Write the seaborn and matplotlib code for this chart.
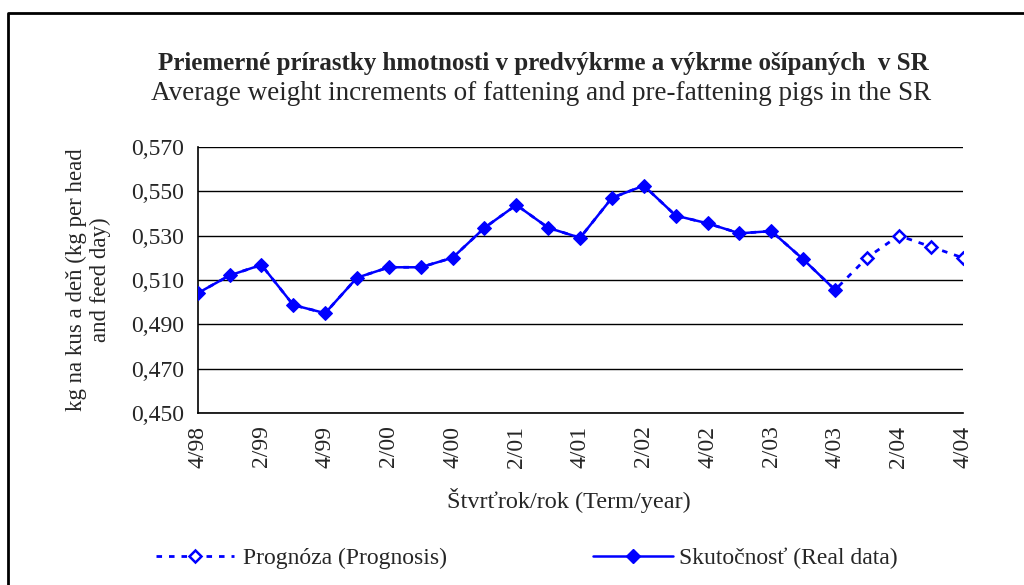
import matplotlib.pyplot as plt
import matplotlib.lines as mlines
import seaborn as sns
import numpy as np

# quarters 4/98 .. 4/04
quarters = ['4/98',
            '1/99', '2/99', '3/99', '4/99',
            '1/00', '2/00', '3/00', '4/00',
            '1/01', '2/01', '3/01', '4/01',
            '1/02', '2/02', '3/02', '4/02',
            '1/03', '2/03', '3/03', '4/03',
            '1/04', '2/04', '3/04', '4/04']

real_data = [0.504,
             0.512, 0.5168, 0.4987, 0.495,
             0.511, 0.5157, 0.5157, 0.520,
             0.5335, 0.5438, 0.5335, 0.529,
             0.547, 0.5525, 0.539, 0.5355,
             0.531, 0.532, 0.5193, 0.5055]

prognosis = [0.504,
             0.512, 0.5168, 0.4987, 0.495,
             0.511, 0.5157, 0.5157, 0.520,
             0.5335, 0.5438, 0.5335, 0.529,
             0.547, 0.5525, 0.539, 0.5355,
             0.531, 0.532, 0.5193, 0.5055,
             0.520, 0.530, 0.525, 0.520]

forecast_start = 21  # first quarter with only a forecast

y_ticks = [0.450, 0.470, 0.490, 0.510, 0.530, 0.550, 0.570]

sns.set_theme(style="white")
plt.rcParams['font.family'] = ['Liberation Serif', 'DejaVu Serif']

fig = plt.figure(figsize=(10.24, 5.85), dpi=100)
ax = fig.add_axes([0.193, 0.294, 0.747, 0.455])

blue = '#0000FF'
dots = (0, (2, 2.5))
x_all = np.arange(len(quarters))

# prognosis: dotted line, open diamonds only for forecast quarters
sns.lineplot(x=x_all, y=prognosis, ax=ax, color=blue, lw=2, linestyle=dots, zorder=2)
ax.plot(x_all[forecast_start:], prognosis[forecast_start:], linestyle='none',
        marker='D', markersize=6.5, markerfacecolor='white',
        markeredgecolor=blue, markeredgewidth=1.8, zorder=3)

# real data: solid line, filled diamonds
sns.lineplot(x=x_all[:len(real_data)], y=real_data, ax=ax, color=blue, lw=1.8,
             marker='D', markersize=7.5, markeredgecolor=blue, zorder=4)

ax.set_xlim(0, len(quarters) - 1)
ax.set_ylim(0.450, 0.570)
ax.set_yticks(y_ticks)
ax.set_yticklabels([f"{v:.3f}".replace('.', ',') for v in y_ticks], fontsize=17)
ax.set_xticks(x_all)
ax.set_xticklabels([q if i % 2 == 0 else '' for i, q in enumerate(quarters)],
                   rotation=90, fontsize=17)
ax.tick_params(axis='x', direction='inout', length=12, width=1, color='black', pad=3)
ax.tick_params(axis='y', direction='out', length=6, width=1, color='black', pad=4)

ax.grid(axis='y', color='black', lw=1)
ax.set_axisbelow(True)
for s in ['top', 'right']:
    ax.spines[s].set_visible(False)
for s in ['left', 'bottom']:
    ax.spines[s].set_color('black')
    ax.spines[s].set_linewidth(1.2)

ax.set_ylabel('kg na kus a deň (kg per head\nand feed day)', fontsize=16.5,
              linespacing=1.2)
ax.yaxis.set_label_coords(-0.113, 0.5)
ax.set_xlabel('Štvrťrok/rok (Term/year)', fontsize=17.5)
ax.xaxis.set_label_coords(0.485, -0.28)

fig.text(0.531, 0.892, 'Priemerné prírastky hmotnosti v predvýkrme a výkrme ošípaných  v SR',
         ha='center', va='center', fontsize=18, fontweight='bold')
fig.text(0.528, 0.840, 'Average weight increments of fattening and pre-fattening pigs in the SR',
         ha='center', va='center', fontsize=19.5)

# legend: two separate entries placed like the original
h_prog = mlines.Line2D([], [], color=blue, lw=2, linestyle=dots,
                       marker='D', markersize=6.5, markerfacecolor='white',
                       markeredgecolor=blue, markeredgewidth=1.8)
h_real = mlines.Line2D([], [], color=blue, lw=1.8, marker='D', markersize=7.5)
fig.legend([h_prog], ['Prognóza (Prognosis)'], loc='center left',
           bbox_to_anchor=(156 / 1024, 1 - 558 / 585), frameon=False,
           fontsize=17, handlelength=3.3, handletextpad=0.4, borderpad=0,
           borderaxespad=0)
fig.legend([h_real], ['Skutočnosť (Real data)'], loc='center left',
           bbox_to_anchor=(593 / 1024, 1 - 558 / 585), frameon=False,
           fontsize=17, handlelength=3.4, handletextpad=0.25, borderpad=0,
           borderaxespad=0)

# outer frame of the chart
fig.add_artist(mlines.Line2D([7.5 / 1024, 7.5 / 1024, 1.0], [0.0, 1 - 13 / 585, 1 - 13 / 585],
                             transform=fig.transFigure, color='black', lw=2))

fig.savefig('out.png', dpi=100)
